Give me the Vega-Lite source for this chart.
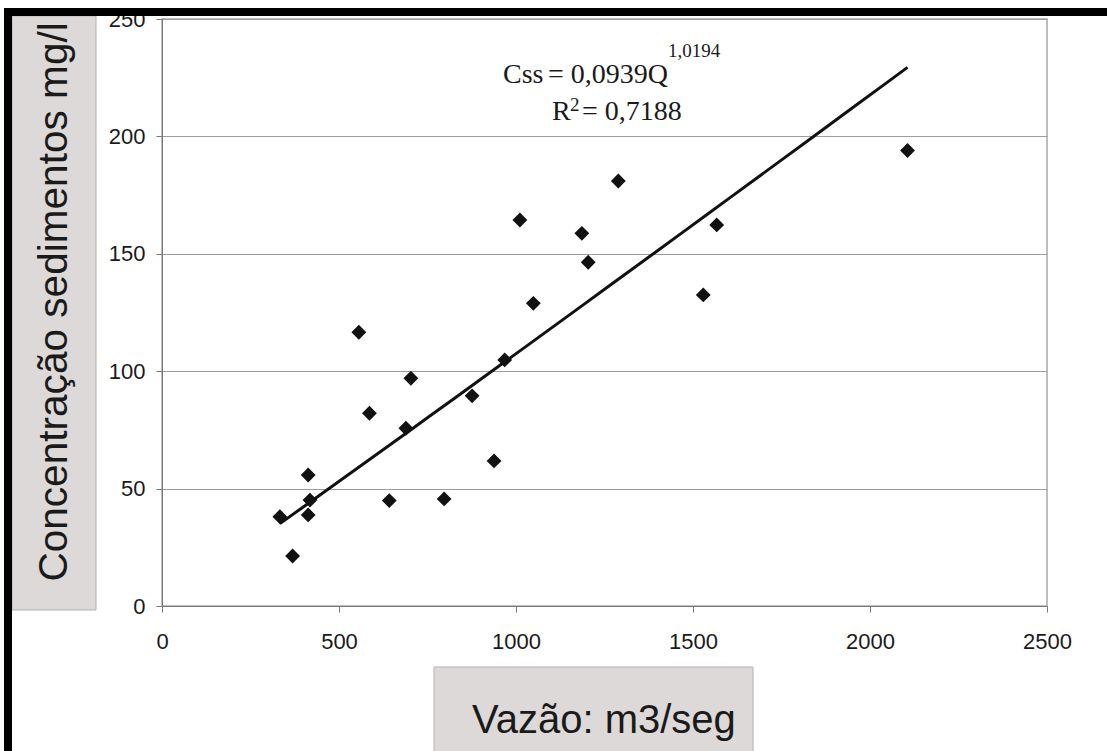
{
  "$schema": "https://vega.github.io/schema/vega-lite/v6.json",
  "width": 885,
  "height": 587,
  "autosize": "none",
  "padding": {"left": 162, "top": 19, "right": 60, "bottom": 145},
  "background": "white",
  "config": {
    "view": {"stroke": "#a8a8a8", "strokeWidth": 1.5},
    "axis": {"title": null, "zindex": 0, "format": "d", "domainColor": "#7a7a7a", "tickColor": "#7a7a7a", "tickSize": 6, "labelFont": "Liberation Sans", "labelFontSize": 22, "labelColor": "#1a1a1a", "labelFlush": false, "labelOverlap": false},
    "axisX": {"grid": false, "labelPadding": 19},
    "axisY": {"grid": true, "gridColor": "#9d9d9d", "labelPadding": 11}
  },
  "data": {"values": [
    {"Q": 333, "C": 38.0}, {"Q": 369, "C": 21.3}, {"Q": 413, "C": 55.8}, {"Q": 418, "C": 45.1},
    {"Q": 413, "C": 38.8}, {"Q": 556, "C": 116.6}, {"Q": 586, "C": 82.1}, {"Q": 642, "C": 44.9},
    {"Q": 689, "C": 75.7}, {"Q": 703, "C": 97.0}, {"Q": 797, "C": 45.6}, {"Q": 876, "C": 89.5},
    {"Q": 938, "C": 61.8}, {"Q": 968, "C": 104.8}, {"Q": 1011, "C": 164.4}, {"Q": 1049, "C": 128.9},
    {"Q": 1186, "C": 158.7}, {"Q": 1204, "C": 146.4}, {"Q": 1289, "C": 181.0}, {"Q": 1529, "C": 132.5},
    {"Q": 1567, "C": 162.3}, {"Q": 2106, "C": 194.0}
  ]},
  "layer": [
    {
      "data": {"values": [{}]},
      "mark": {"type": "rect", "fill": "#dcd9d8", "stroke": "#b4b1b0", "strokeWidth": 1},
      "encoding": {
        "x": {"datum": -423.7, "type": "quantitative", "scale": {"domain": [0, 2500], "nice": false, "zero": false}},
        "x2": {"datum": -186.4},
        "y": {"datum": 251.3, "type": "quantitative", "scale": {"domain": [0, 250], "nice": false, "zero": false}},
        "y2": {"datum": -1.7}
      }
    },
    {
      "data": {"values": [{}]},
      "mark": {"type": "rect", "fill": "#dcd9d8", "stroke": "#b4b1b0", "strokeWidth": 1},
      "encoding": {
        "x": {"datum": 768.4, "type": "quantitative", "scale": {"domain": [0, 2500], "nice": false, "zero": false}},
        "x2": {"datum": 1669.5},
        "y": {"datum": -25.98, "type": "quantitative", "scale": {"domain": [0, 250], "nice": false, "zero": false}},
        "y2": {"datum": -62.5}
      }
    },
    {
      "data": {"values": [{}]},
      "mark": {"type": "rect", "fill": "black"},
      "encoding": {
        "x": {"datum": -446.3, "type": "quantitative", "scale": {"domain": [0, 2500], "nice": false, "zero": false}},
        "x2": {"datum": 2669.5},
        "y": {"datum": 254.7, "type": "quantitative", "scale": {"domain": [0, 250], "nice": false, "zero": false}},
        "y2": {"datum": 251.3}
      }
    },
    {
      "data": {"values": [{}]},
      "mark": {"type": "rect", "fill": "black"},
      "encoding": {
        "x": {"datum": -446.3, "type": "quantitative", "scale": {"domain": [0, 2500], "nice": false, "zero": false}},
        "x2": {"datum": -423.7},
        "y": {"datum": 254.7, "type": "quantitative", "scale": {"domain": [0, 250], "nice": false, "zero": false}},
        "y2": {"datum": -62.5}
      }
    },
    {
      "data": {"values": [{}]},
      "mark": {"type": "text", "angle": 270, "align": "center", "baseline": "alphabetic", "font": "Liberation Sans", "fontSize": 40.6, "color": "#1a1a1a"},
      "encoding": {
        "x": {"datum": -268.4, "type": "quantitative", "scale": {"domain": [0, 2500], "nice": false, "zero": false}},
        "y": {"datum": 129.5, "type": "quantitative", "scale": {"domain": [0, 250], "nice": false, "zero": false}},
        "text": {"value": "Concentração sedimentos mg/l"}
      }
    },
    {
      "data": {"values": [{}]},
      "mark": {"type": "text", "align": "left", "baseline": "alphabetic", "font": "Liberation Sans", "fontSize": 40, "color": "#1a1a1a"},
      "encoding": {
        "x": {"datum": 875.7, "type": "quantitative", "scale": {"domain": [0, 2500], "nice": false, "zero": false}},
        "y": {"datum": -54.1, "type": "quantitative", "scale": {"domain": [0, 250], "nice": false, "zero": false}},
        "text": {"value": "Vazão: m3/seg"}
      }
    },
    {
      "data": {"values": [{}]},
      "mark": {"type": "text", "align": "left", "baseline": "alphabetic", "font": "Liberation Serif", "fontSize": 28, "color": "#1a1a1a"},
      "encoding": {
        "x": {"datum": 963.3, "type": "quantitative", "scale": {"domain": [0, 2500], "nice": false, "zero": false}},
        "y": {"datum": 222.6, "type": "quantitative", "scale": {"domain": [0, 250], "nice": false, "zero": false}},
        "text": {"value": "Css"}
      }
    },
    {
      "data": {"values": [{}]},
      "mark": {"type": "text", "align": "left", "baseline": "alphabetic", "font": "Liberation Serif", "fontSize": 28, "color": "#1a1a1a"},
      "encoding": {
        "x": {"datum": 1090.4, "type": "quantitative", "scale": {"domain": [0, 2500], "nice": false, "zero": false}},
        "y": {"datum": 222.6, "type": "quantitative", "scale": {"domain": [0, 250], "nice": false, "zero": false}},
        "text": {"value": "= 0,0939Q"}
      }
    },
    {
      "data": {"values": [{}]},
      "mark": {"type": "text", "align": "left", "baseline": "alphabetic", "font": "Liberation Serif", "fontSize": 19, "color": "#1a1a1a"},
      "encoding": {
        "x": {"datum": 1429.4, "type": "quantitative", "scale": {"domain": [0, 2500], "nice": false, "zero": false}},
        "y": {"datum": 233.7, "type": "quantitative", "scale": {"domain": [0, 250], "nice": false, "zero": false}},
        "text": {"value": "1,0194"}
      }
    },
    {
      "data": {"values": [{}]},
      "mark": {"type": "text", "align": "left", "baseline": "alphabetic", "font": "Liberation Serif", "fontSize": 28, "color": "#1a1a1a"},
      "encoding": {
        "x": {"datum": 1101.7, "type": "quantitative", "scale": {"domain": [0, 2500], "nice": false, "zero": false}},
        "y": {"datum": 207.0, "type": "quantitative", "scale": {"domain": [0, 250], "nice": false, "zero": false}},
        "text": {"value": "R"}
      }
    },
    {
      "data": {"values": [{}]},
      "mark": {"type": "text", "align": "left", "baseline": "alphabetic", "font": "Liberation Serif", "fontSize": 19, "color": "#1a1a1a"},
      "encoding": {
        "x": {"datum": 1152.5, "type": "quantitative", "scale": {"domain": [0, 2500], "nice": false, "zero": false}},
        "y": {"datum": 211.0, "type": "quantitative", "scale": {"domain": [0, 250], "nice": false, "zero": false}},
        "text": {"value": "2"}
      }
    },
    {
      "data": {"values": [{}]},
      "mark": {"type": "text", "align": "left", "baseline": "alphabetic", "font": "Liberation Serif", "fontSize": 28, "color": "#1a1a1a"},
      "encoding": {
        "x": {"datum": 1186.5, "type": "quantitative", "scale": {"domain": [0, 2500], "nice": false, "zero": false}},
        "y": {"datum": 207.0, "type": "quantitative", "scale": {"domain": [0, 250], "nice": false, "zero": false}},
        "text": {"value": "= 0,7188"}
      }
    },
    {
      "transform": [{"regression": "C", "on": "Q", "method": "pow"}],
      "mark": {"type": "line", "color": "#111111", "strokeWidth": 3},
      "encoding": {
        "x": {"field": "Q", "type": "quantitative", "scale": {"domain": [0, 2500], "nice": false, "zero": false}},
        "y": {"field": "C", "type": "quantitative", "scale": {"domain": [0, 250], "nice": false, "zero": false}}
      }
    },
    {
      "mark": {"type": "point", "shape": "diamond", "filled": true, "size": 220, "color": "#111111", "opacity": 1},
      "encoding": {
        "x": {"field": "Q", "type": "quantitative", "scale": {"domain": [0, 2500], "nice": false, "zero": false},
          "axis": {"values": [0, 500, 1000, 1500, 2000, 2500]}},
        "y": {"field": "C", "type": "quantitative", "scale": {"domain": [0, 250], "nice": false, "zero": false},
          "axis": {"values": [0, 50, 100, 150, 200, 250]}}
      }
    }
  ]
}
